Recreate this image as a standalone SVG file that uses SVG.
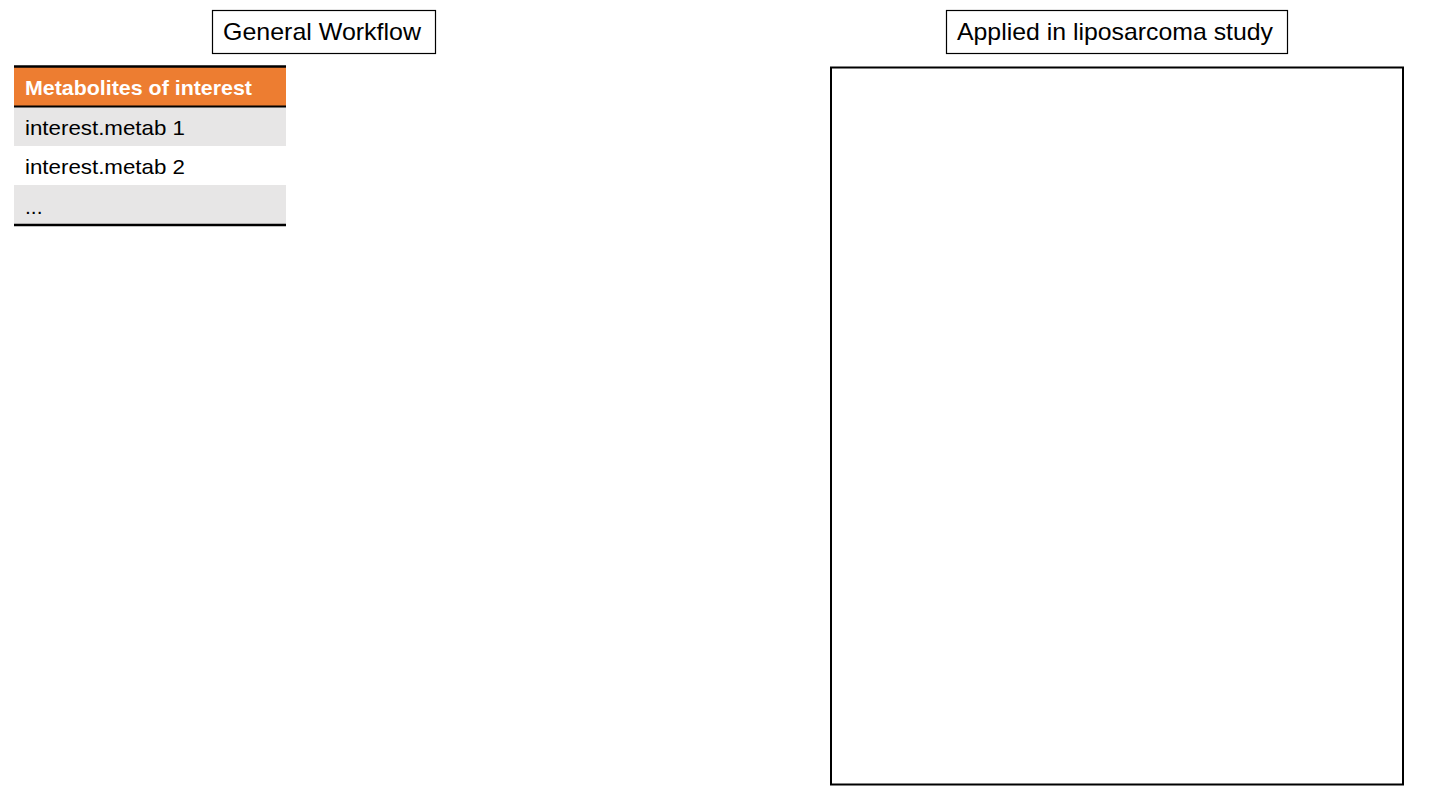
<svg xmlns="http://www.w3.org/2000/svg" width="1440" height="810" viewBox="0 0 1440 810">
<style>
.t{font-family:"Liberation Sans",Arial,sans-serif;fill:#000}
.box{fill:#fff;stroke:#000;stroke-width:1.2}
</style>
<rect width="1440" height="810" fill="#fff"/>
<g id="title-general">
<rect class="box" x="212.5" y="10.5" width="223" height="43"/>
<text class="t" x="223" y="40" font-size="24" textLength="198" lengthAdjust="spacingAndGlyphs">General Workflow</text>
</g>
<g id="title-applied">
<rect class="box" x="946.5" y="10.5" width="341" height="43"/>
<text class="t" x="957" y="40" font-size="24" textLength="316" lengthAdjust="spacingAndGlyphs">Applied in liposarcoma study</text>
</g>
<g id="metabolites-table">
<rect x="14" y="67" width="272" height="39" fill="#ED7D31"/>
<rect x="14" y="107" width="272" height="39" fill="#E7E6E6"/>
<rect x="14" y="146" width="272" height="39" fill="#fff"/>
<rect x="14" y="185" width="272" height="39" fill="#E7E6E6"/>
<line x1="14" y1="66.5" x2="286" y2="66.5" stroke="#000" stroke-width="2.5"/>
<line x1="14" y1="106.5" x2="286" y2="106.5" stroke="#000" stroke-width="2"/>
<line x1="14" y1="225" x2="286" y2="225" stroke="#000" stroke-width="2.5"/>
<text class="t" x="25" y="95" font-size="21" font-weight="bold" style="fill:#fff" textLength="227" lengthAdjust="spacingAndGlyphs">Metabolites of interest</text>
<text class="t" x="25" y="135" font-size="21" textLength="160" lengthAdjust="spacingAndGlyphs">interest.metab 1</text>
<text class="t" x="25" y="174" font-size="21" textLength="160" lengthAdjust="spacingAndGlyphs">interest.metab 2</text>
<text class="t" x="25" y="214" font-size="21">...</text>
</g>
<g id="applied-panel">
<rect x="831" y="67.5" width="572" height="717" fill="#fff" stroke="#000" stroke-width="2"/>
</g>
<g id="connectors"></g>
</svg>
